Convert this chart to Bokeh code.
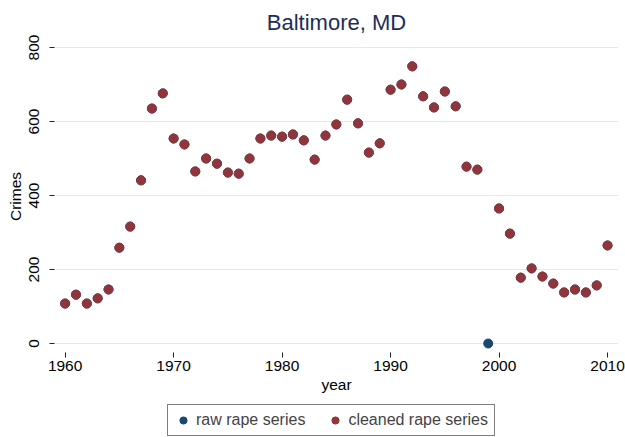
import numpy as np
from bokeh.plotting import figure
from bokeh.layouts import column
from bokeh.models import Range1d, FixedTicker, Legend, LegendItem, ColumnDataSource
from bokeh.embed import file_html
from bokeh.resources import INLINE

years = list(range(1960, 2011))
cleaned_rape = [108, 132, 108, 122, 146, 259, 316, 441, 635, 676,
                554, 538, 465, 500, 486, 462, 459, 500, 554, 562,
                559, 565, 549, 497, 562, 592, 659, 595, 516, 541,
                686, 700, 749, 668, 638, 681, 641, 478, 470, None,
                365, 297, 178, 203, 181, 162, 138, 146, 138, 157,
                265]
raw_rape = [v if v is not None else 0 for v in cleaned_rape]

x_ticks = [1960, 1970, 1980, 1990, 2000, 2010]
y_ticks = [0, 200, 400, 600, 800]
series_labels = ["raw rape series", "cleaned rape series"]

FONT = "Liberation Sans"
RED = "#90353b"
BLUE = "#1a476f"

p = figure(frame_width=564, frame_height=312, output_backend="svg", toolbar_location=None,
           x_range=Range1d(1959.02, 2011.01), y_range=Range1d(-24.3, 818.9),
           min_border_left=54, min_border_right=7, min_border_top=40,
           min_border_bottom=48)
p.outline_line_color = None
p.background_fill_color = "white"
p.border_fill_color = "white"

p.title.text = "Baltimore, MD"
p.title.align = "center"
p.title.text_font = FONT
p.title.text_font_size = "22px"
p.title.text_font_style = "normal"
p.title.text_color = "#1e2d5a"
p.title.standoff = 11

src = ColumnDataSource(dict(year=years,
                            raw=raw_rape,
                            clean=[np.nan if v is None else v for v in cleaned_rape]))
p.scatter("year", "raw", source=src, size=9, color=BLUE)
p.scatter("year", "clean", source=src, size=9, color=RED)

p.xgrid.visible = False
p.ygrid.ticker = FixedTicker(ticks=y_ticks)
p.ygrid.grid_line_color = "#e1eaec"
p.ygrid.grid_line_width = 1.2

for ax in (p.xaxis[0], p.yaxis[0]):
    ax.axis_line_color = None
    ax.major_tick_out = 5
    ax.major_tick_in = 0
    ax.minor_tick_line_color = None
    ax.major_tick_line_color = "#222222"
    ax.major_label_text_font = FONT
    ax.major_label_text_font_size = "15.5px"
    ax.major_label_text_color = "black"
    ax.axis_label_text_font = FONT
    ax.axis_label_text_font_size = "15.5px"
    ax.axis_label_text_font_style = "normal"
    ax.axis_label_text_color = "black"

p.xaxis.ticker = FixedTicker(ticks=x_ticks)
p.yaxis.ticker = FixedTicker(ticks=y_ticks)
p.xaxis.axis_label = "year"
p.yaxis.axis_label = "Crimes"
p.yaxis.major_label_orientation = "vertical"
p.xaxis.major_label_standoff = 3
p.xaxis.axis_label_standoff = 2
p.yaxis.major_label_standoff = 10
p.yaxis.axis_label_standoff = 3

# legend strip below the chart
lg = figure(width=625, height=37, output_backend="svg", toolbar_location=None,
            x_range=Range1d(0, 1), y_range=Range1d(0, 1),
            x_axis_type=None, y_axis_type=None,
            min_border_left=0, min_border_right=0, min_border_top=0, min_border_bottom=0)
lg.outline_line_color = None
lg.xgrid.visible = False
lg.ygrid.visible = False
dummy = ColumnDataSource(dict(x=[-10], y=[-10]))
lr_raw = lg.scatter("x", "y", source=dummy, size=9, color=BLUE)
lr_clean = lg.scatter("x", "y", source=dummy, size=9, color=RED)

legend = Legend(items=[LegendItem(label=series_labels[0], renderers=[lr_raw]),
                       LegendItem(label=series_labels[1], renderers=[lr_clean])],
                orientation="horizontal", location=(113, 1))
legend.border_line_color = "black"
legend.border_line_width = 1
legend.label_text_font = FONT
legend.label_text_font_size = "16px"
legend.glyph_width = 18
legend.glyph_height = 18
legend.label_height = 16
legend.label_standoff = 4
legend.spacing = 21
legend.padding = 6
legend.margin = 0
lg.add_layout(legend, "center")

layout = column(p, lg, spacing=0)
open("out.html", "w").write(file_html(layout, INLINE))
